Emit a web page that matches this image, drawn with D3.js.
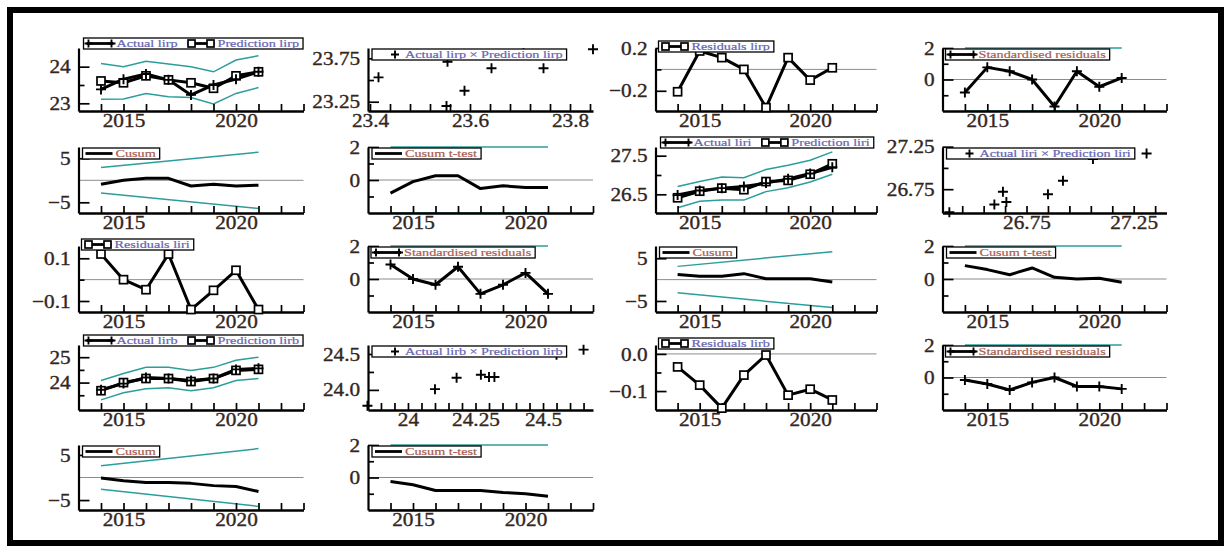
<!DOCTYPE html>
<html>
<head>
<meta charset="utf-8">
<script src="https://cdn.jsdelivr.net/npm/d3@7"></script>
<style>
  body { margin: 0; background: #fff; }
  svg { display: block; }
  .tick text { font-family: "Liberation Serif", serif; font-size: 19px; fill: #33261e; stroke: #33261e; stroke-width: 0.35px; }
</style>
</head>
<body>
<svg id="chart" width="1230" height="549"></svg>
<script>
// ---- data ----
const years = [2014, 2015, 2016, 2017, 2018, 2019, 2020, 2021];
const yearTicks = [2014, 2015, 2016, 2017, 2018, 2019, 2020, 2021, 2022, 2023];
const yearLabels = [2015, 2020];
const bandYears = [2014, 2021];

// lirp
const actualLirp = [23.38, 23.66, 23.80, 23.64, 23.23, 23.50, 23.66, 23.86];
const predLirp   = [23.61, 23.56, 23.75, 23.64, 23.56, 23.41, 23.75, 23.86];
const upperLirp  = [24.09, 24.00, 24.15, 24.07, 24.00, 23.86, 24.18, 24.30];
const lowerLirp  = [23.11, 23.12, 23.27, 23.18, 23.16, 22.98, 23.27, 23.43];
const scatterLirpX = [23.417, 23.555, 23.553, 23.589, 23.643, 23.707, 23.747, 23.846];
const scatterLirpY = [23.531, 23.711, 23.200, 23.377, 23.635, 23.808, 23.635, 23.854];
const residLirp  = [-0.209, 0.172, 0.11, 0.0, -0.357, 0.11, -0.10, 0.015];
const stdResLirp = [-0.83, 0.77, 0.52, 0.0, -1.71, 0.52, -0.46, 0.10];
const cusumLirp  = [-0.9, 0.0, 0.45, 0.45, -1.3, -0.9, -1.3, -1.1];
const cusumBandLirp = [2.9, 6.4];
const cusumTLirp = [-0.8, -0.1, 0.26, 0.26, -0.52, -0.35, -0.45, -0.45];

// liri
const actualLiri = [26.48, 26.60, 26.66, 26.70, 26.79, 26.90, 27.04, 27.20];
const predLiri   = [26.41, 26.58, 26.66, 26.62, 26.83, 26.86, 27.02, 27.29];
const upperLiri  = [26.70, 26.83, 26.95, 26.93, 27.14, 27.25, 27.38, 27.60];
const lowerLiri  = [26.15, 26.32, 26.35, 26.35, 26.57, 26.67, 26.82, 27.02];
const scatterLiriX = [26.39, 26.60, 26.656, 26.64, 26.85, 26.92, 27.06, 27.31];
const scatterLiriY = [26.48, 26.57, 26.60, 26.72, 26.69, 26.85, 27.105, 27.17];
const residLiri  = [0.12, 0.0, -0.047, 0.12, -0.14, -0.05, 0.044, -0.14];
const stdResLiri = [0.88, 0.0, -0.35, 0.74, -0.90, -0.35, 0.37, -0.90];
const cusumLiri  = [1.2, 0.8, 0.8, 1.4, 0.2, 0.2, 0.2, -0.55];
const cusumBandLiri = [3.1, 6.55];
const cusumTLiri = [0.81, 0.57, 0.26, 0.67, 0.10, 0.0, 0.05, -0.20];

// lirb
const actualLirb = [23.72, 23.96, 24.20, 24.16, 24.08, 24.16, 24.52, 24.56];
const predLirb   = [23.68, 24.00, 24.16, 24.16, 24.04, 24.16, 24.48, 24.52];
const upperLirb  = [24.08, 24.36, 24.60, 24.60, 24.48, 24.60, 24.88, 25.00];
const lowerLirb  = [23.32, 23.60, 23.76, 23.80, 23.68, 23.80, 24.08, 24.16];
const scatterLirbX = [23.85, 24.10, 24.18, 24.27, 24.30, 24.32, 24.55, 24.65];
const scatterLirbY = [23.78, 24.01, 24.17, 24.21, 24.18, 24.18, 24.49, 24.56];
const residLirb  = [-0.035, -0.084, -0.146, -0.057, -0.003, -0.111, -0.095, -0.124];
const stdResLirb = [-0.15, -0.40, -0.77, -0.30, 0.0, -0.55, -0.55, -0.70];
const cusumLirb  = [-0.1, -0.7, -1.1, -1.1, -1.3, -1.8, -2.0, -3.1];
const cusumBandLirb = [2.6, 6.4];
const cusumTLirb = [-0.25, -0.45, -0.80, -0.80, -0.80, -0.92, -1.00, -1.15];

// tick values
const stdTicks = [-1, 0, 1, 2], stdLabels = [0, 2];
const cusumTicks = [-5, 5], cusumLabels = [-5, 5];
const scatterLirpXTicks = d3.range(0, 12).map(i => 23.4 + i * 0.04), scatterLirpXLabels = [23.4, 23.6, 23.8];
const scatterLiriXTicks = d3.range(0, 10).map(i => 26.45 + i * 0.1), scatterLiriXLabels = [26.75, 27.25];
const scatterLirbXTicks = d3.range(0, 16).map(i => 23.9 + i * 0.05), scatterLirbXLabels = [24, 24.25, 24.5];

// ---- layout ----
const colLeft = [78.5, 368, 655.5, 942.5];
const colWidth = [225, 225, 221, 224];
const rowBottom = [111, 213, 312, 410, 510];
const rowHeight = [63, 66, 66, 65, 65];
const teal = "#2b9e9b";
const legBlue = "#6464b4", legRed = "#a85e52";

const svg = d3.select("#chart");

// outer frame
svg.append("rect").attr("x", 10).attr("y", 10).attr("width", 1211).attr("height", 533)
  .attr("fill", "none").attr("stroke", "#000").attr("stroke-width", 6);

const panels = [
  { col: 0, row: 0, kind: "fit", a: actualLirp, p: predLirp, up: upperLirp, lo: lowerLirp, yDomain: [22.79, 24.51], yTicks: [23, 23.5, 24], yLabels: [23, 24], name: "lirp" },
  { col: 1, row: 0, kind: "scatter", sx: scatterLirpX, sy: scatterLirpY, xDomain: [23.396, 23.846], xTicks: scatterLirpXTicks, xLabels: scatterLirpXLabels, yDomain: [23.143, 23.869], yTicks: [23.25, 23.5, 23.75], yLabels: [23.25, 23.75], name: "lirp" },
  { col: 2, row: 0, kind: "resid", v: residLirp, yDomain: [-0.389, 0.2], yTicks: [-0.2, 0, 0.2], yLabels: [-0.2, 0.2], name: "lirp" },
  { col: 3, row: 0, kind: "stdres", v: stdResLirp, yDomain: [-2, 2], yTicks: stdTicks, yLabels: stdLabels },
  { col: 0, row: 1, kind: "cusum", v: cusumLirp, band: cusumBandLirp, yDomain: [-7.43, 7.57], yTicks: cusumTicks, yLabels: cusumLabels },
  { col: 1, row: 1, kind: "cusumt", v: cusumTLirp, yDomain: [-2, 2], yTicks: stdTicks, yLabels: stdLabels },
  { col: 2, row: 1, kind: "fit", a: actualLiri, p: predLiri, up: upperLiri, lo: lowerLiri, yDomain: [26.016, 27.725], yTicks: [26.5, 27, 27.5], yLabels: [26.5, 27.5], name: "liri" },
  { col: 3, row: 1, kind: "scatter", sx: scatterLiriX, sy: scatterLiriY, xDomain: [26.358, 27.403], xTicks: scatterLiriXTicks, xLabels: scatterLiriXLabels, yDomain: [26.47, 27.246], yTicks: [26.75, 27, 27.25], yLabels: [26.75, 27.25], name: "liri" },
  { col: 0, row: 2, kind: "resid", v: residLiri, yDomain: [-0.1515, 0.1576], yTicks: [-0.1, 0, 0.1], yLabels: [-0.1, 0.1], name: "liri" },
  { col: 1, row: 2, kind: "stdres", v: stdResLiri, yDomain: [-2, 2], yTicks: stdTicks, yLabels: stdLabels },
  { col: 2, row: 2, kind: "cusum", v: cusumLiri, band: cusumBandLiri, yDomain: [-7.58, 7.87], yTicks: cusumTicks, yLabels: cusumLabels },
  { col: 3, row: 2, kind: "cusumt", v: cusumTLiri, yDomain: [-2, 2], yTicks: stdTicks, yLabels: stdLabels },
  { col: 0, row: 3, kind: "fit", a: actualLirb, p: predLirb, up: upperLirb, lo: lowerLirb, yDomain: [22.92, 25.48], yTicks: [23.5, 24, 24.5, 25], yLabels: [24, 25], name: "lirb" },
  { col: 1, row: 3, kind: "scatter", sx: scatterLirbX, sy: scatterLirbY, xDomain: [23.852, 24.685], xTicks: scatterLirbXTicks, xLabels: scatterLirbXLabels, yDomain: [23.72, 24.625], yTicks: [24.0, 24.25, 24.5], yLabels: [24.0, 24.5], yFmt: d3.format(".1f"), name: "lirb" },
  { col: 2, row: 3, kind: "resid", v: residLirb, yDomain: [-0.151, 0.024], yTicks: [-0.1, -0.05, 0], yLabels: [-0.1, 0], yFmt: d3.format(".1f"), name: "lirb" },
  { col: 3, row: 3, kind: "stdres", v: stdResLirb, yDomain: [-2, 2], yTicks: stdTicks, yLabels: stdLabels },
  { col: 0, row: 4, kind: "cusum", v: cusumLirb, band: cusumBandLirb, yDomain: [-7.2, 7.2], yTicks: cusumTicks, yLabels: cusumLabels },
  { col: 1, row: 4, kind: "cusumt", v: cusumTLirb, yDomain: [-2, 2], yTicks: stdTicks, yLabels: stdLabels }
];

const has = (arr, d) => arr.some(v => Math.abs(v - d) < 1e-9);

function plusMark(g, cx, cy, s) {
  g.append("path").attr("d", `M${cx - s},${cy}H${cx + s}M${cx},${cy - s}V${cy + s}`)
    .attr("stroke", "#000").attr("stroke-width", 1.9).attr("fill", "none");
}
function squareMark(g, cx, cy, s) {
  g.append("rect").attr("x", cx - s).attr("y", cy - s).attr("width", 2 * s).attr("height", 2 * s)
    .attr("fill", "#fff").attr("stroke", "#000").attr("stroke-width", 1.7);
}

function drawLegend(g, x0, y0, items, color) {
  const lg = g.append("g");
  const box = lg.append("rect").attr("x", x0).attr("y", y0).attr("height", 11)
    .attr("fill", "#fff").attr("stroke", "#000").attr("stroke-width", 1.3);
  let cx = x0 + 3;
  const cy = y0 + 5.5;
  items.forEach(it => {
    if (it.sym === "scatter") {
      plusMark(lg, cx + 20, cy, 4);
    } else {
      lg.append("line").attr("x1", cx).attr("x2", cx + 27).attr("y1", cy).attr("y2", cy)
        .attr("stroke", "#000").attr("stroke-width", 2.8);
      if (it.sym === "plus") { plusMark(lg, cx + 2, cy, 4); plusMark(lg, cx + 25, cy, 4); }
      if (it.sym === "square") { squareMark(lg, cx + 4, cy, 3.5); squareMark(lg, cx + 23, cy, 3.5); }
    }
    const t = lg.append("text").attr("x", cx + 30).attr("y", y0 + 9)
      .attr("font-family", "Liberation Serif, serif").attr("font-size", 10.5)
      .attr("fill", color).attr("stroke", color).attr("stroke-width", 0.2).text(it.label);
    const w = t.node().getComputedTextLength() * 1.35;
    t.attr("textLength", w).attr("lengthAdjust", "spacingAndGlyphs");
    cx += 30 + w + 10;
  });
  box.attr("width", cx - 10 + 4 - x0);
}

function drawPanel(p) {
  const left = colLeft[p.col], right = left + colWidth[p.col];
  const bottom = rowBottom[p.row], top = bottom - rowHeight[p.row];
  const g = svg.append("g");

  const x = p.kind === "scatter"
    ? d3.scaleLinear().domain(p.xDomain).range([left, right])
    : d3.scaleLinear().domain([2013, 2023]).range([left, right]);
  const y = d3.scaleLinear().domain(p.yDomain).range([bottom, top]);
  const line = d3.line().x((d, i) => x(years[i])).y(d => y(d));

  // zero reference
  if (["resid", "stdres", "cusum", "cusumt"].includes(p.kind)) {
    g.append("line").attr("x1", left).attr("x2", right).attr("y1", y(0)).attr("y2", y(0))
      .attr("stroke", "#8c8c8c").attr("stroke-width", 1);
  }
  // teal bands
  const bandLine = d3.line().x((d, i) => x(bandYears[i])).y(d => y(d));
  if (p.kind === "fit") {
    g.append("path").attr("d", line(p.up)).attr("fill", "none").attr("stroke", teal).attr("stroke-width", 1.5);
    g.append("path").attr("d", line(p.lo)).attr("fill", "none").attr("stroke", teal).attr("stroke-width", 1.5);
  }
  if (p.kind === "cusum") {
    g.append("path").attr("d", bandLine(p.band)).attr("fill", "none").attr("stroke", teal).attr("stroke-width", 1.5);
    g.append("path").attr("d", bandLine(p.band.map(v => -v))).attr("fill", "none").attr("stroke", teal).attr("stroke-width", 1.5);
  }
  if (p.kind === "stdres" || p.kind === "cusumt") {
    [2, -2].forEach(b => {
      g.append("path").attr("d", bandLine([b, b])).attr("fill", "none").attr("stroke", teal).attr("stroke-width", 1.5);
    });
  }

  // axes
  const xTicks = p.kind === "scatter" ? p.xTicks : yearTicks;
  const xLabels = p.kind === "scatter" ? p.xLabels : yearLabels;
  const xFmt = p.kind === "scatter" ? d3.format("") : d3.format("d");
  const xa = g.append("g").attr("transform", `translate(0,${bottom})`)
    .call(d3.axisBottom(x).tickValues(xTicks).tickSize(-7).tickSizeOuter(0).tickPadding(3)
      .tickFormat(d => has(xLabels, d) ? xFmt(d) : ""));
  xa.select(".domain").attr("stroke-width", 2.4);
  xa.selectAll(".tick line").attr("stroke-width", 1.7);
  xa.selectAll("text").attr("transform", "scale(1.12,1)");

  const yFmt = p.yFmt || d3.format("");
  const minor = p.yTicks.filter(d => !has(p.yLabels, d));
  const ya1 = g.append("g").attr("transform", `translate(${left},0)`)
    .call(d3.axisLeft(y).tickValues(minor).tickSize(-6).tickSizeOuter(0).tickFormat(""));
  ya1.select(".domain").attr("stroke-width", 2.2);
  ya1.selectAll(".tick line").attr("stroke-width", 1.7);
  const ya2 = g.append("g").attr("transform", `translate(${left},0)`)
    .call(d3.axisLeft(y).tickValues(p.yLabels).tickSize(-11).tickSizeOuter(0).tickPadding(7).tickFormat(yFmt));
  ya2.select(".domain").remove();
  ya2.selectAll(".tick line").attr("stroke-width", 1.7);
  ya2.selectAll("text").attr("transform", "scale(1.12,1)");

  // data
  const thick = { fill: "none", stroke: "#000", "stroke-width": 3, "stroke-linejoin": "round" };
  const applyThick = s => { Object.entries(thick).forEach(([k, v]) => s.attr(k, v)); return s; };
  if (p.kind === "fit") {
    applyThick(g.append("path").attr("d", line(p.p)));
    applyThick(g.append("path").attr("d", line(p.a)));
    p.p.forEach((v, i) => squareMark(g, x(years[i]), y(v), 4));
    p.a.forEach((v, i) => plusMark(g, x(years[i]), y(v), 5));
    drawLegend(g, left + 5, top - 10, [
      { sym: "plus", label: "Actual " + p.name },
      { sym: "square", label: "Prediction " + p.name }
    ], legBlue);
  } else if (p.kind === "scatter") {
    p.sx.forEach((v, i) => plusMark(g, x(v), y(p.sy[i]), 5));
    drawLegend(g, left + 4, top + 1, [
      { sym: "scatter", label: "Actual " + p.name + " \u00d7 Prediction " + p.name }
    ], legBlue);
  } else if (p.kind === "resid") {
    applyThick(g.append("path").attr("d", line(p.v)));
    p.v.forEach((v, i) => squareMark(g, x(years[i]), y(v), 4));
    drawLegend(g, left + 3, top - 7, [{ sym: "square", label: "Residuals " + p.name }], legBlue);
  } else if (p.kind === "stdres") {
    applyThick(g.append("path").attr("d", line(p.v)));
    p.v.forEach((v, i) => plusMark(g, x(years[i]), y(v), 5));
    drawLegend(g, left + 3, top + 1, [{ sym: "plus", label: "Standardised residuals" }], legRed);
  } else if (p.kind === "cusum") {
    applyThick(g.append("path").attr("d", line(p.v)));
    drawLegend(g, left + 4, top + 1, [{ sym: "line", label: "Cusum" }], legRed);
  } else if (p.kind === "cusumt") {
    applyThick(g.append("path").attr("d", line(p.v)));
    drawLegend(g, left + 4, top + 1, [{ sym: "line", label: "Cusum t-test" }], legRed);
  }
}

panels.forEach(drawPanel);
</script>
</body>
</html>
